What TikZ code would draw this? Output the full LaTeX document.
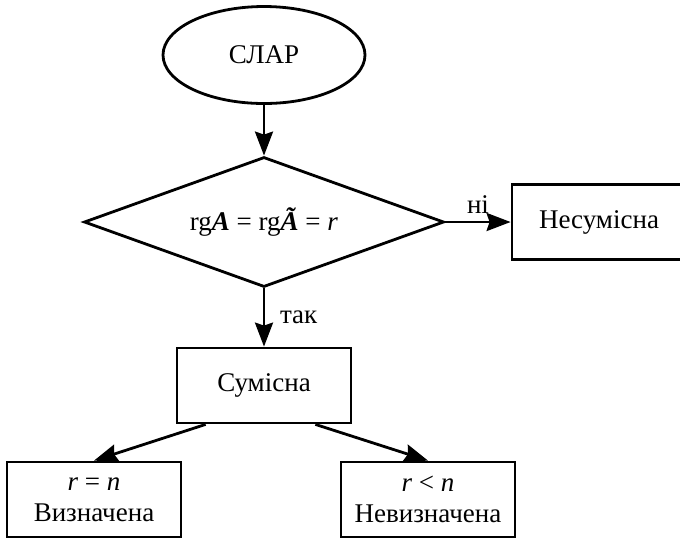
\documentclass[tikz,border=0pt]{standalone}
\usepackage{fontspec}
\setmainfont{Liberation Serif}
\usetikzlibrary{arrows.meta,positioning,shapes.geometric}

\begin{document}
\begin{tikzpicture}[x=0.5pt,y=-0.5pt,
  every node/.style={font=\fontsize{13.5}{15.5}\selectfont},
  blok/.style={draw,line width=1.4pt,minimum width=87pt,minimum height=37.5pt,align=center,inner sep=2pt},
  strilka/.style={line width=1.4pt,-{Stealth[length=12pt,width=9pt,inset=1.5pt]}}]

\useasboundingbox (0,0) rectangle (680,538);

\node[draw,ellipse,line width=1.4pt,minimum width=101pt,minimum height=48.5pt] (slar) at (264,55) {СЛАР};
\node[draw,diamond,aspect=2.77,line width=1.4pt,minimum width=180pt,minimum height=65pt,inner sep=1pt] (umova) at (264,222) {rg\textbf{\textit{A}} = rg\textbf{\textit{\~A}} = \textit{r}};
\node[blok] (nesum) at (599,222) {Несумісна};
\node[blok] (sum) at (264,385.5) {Сумісна};
\node[blok] (vyzn) at (94,499.5) {\textit{r} = \textit{n}\\Визначена};
\node[blok] (nevyzn) at (428,499.5) {\textit{r} < \textit{n}\\Невизначена};

\draw[strilka] (slar) -- (umova);
\draw[strilka] (umova) -- (nesum) node[midway,above] {ні};
\draw[strilka] (umova) -- (sum) node[midway,right,xshift=4pt] {так};
\draw[strilka] ([xshift=15pt]sum.south west) -- (vyzn.north);
\draw[strilka] ([xshift=-18.5pt]sum.south east) -- (nevyzn.north);
\end{tikzpicture}
\end{document}
